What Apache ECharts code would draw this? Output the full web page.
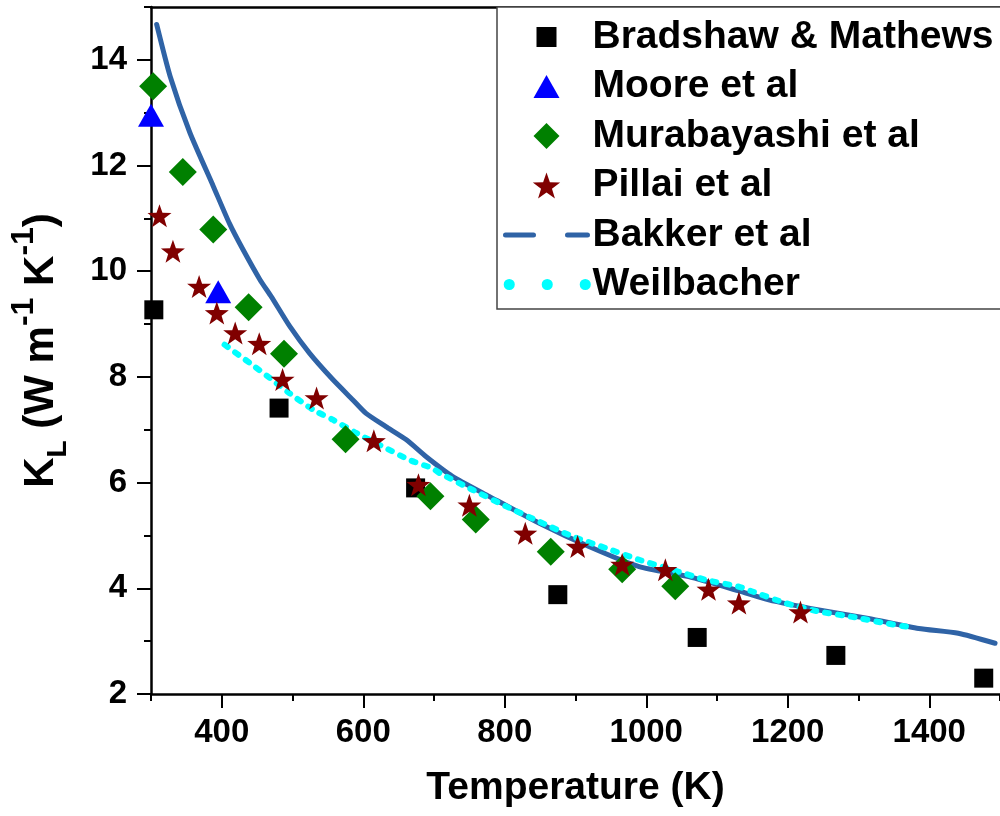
<!DOCTYPE html>
<html><head><meta charset="utf-8">
<script src="https://cdn.jsdelivr.net/npm/echarts@6/dist/echarts.min.js"></script>
<style>html,body{margin:0;padding:0;background:#fff}#c{width:1000px;height:816px}</style>
</head><body><div id="c"></div>
<script>
// ---- data (Temperature K, K_L W m^-1 K^-1) ----
const bradshaw = [[304,9.27],[481,7.41],[674,5.90],[875,3.88],[1072,3.07],[1268,2.73],[1477,2.30]];
const moore = [[300,12.95],[395,9.61]];
const murabayashi = [[303,13.50],[345,11.88],[388,10.79],[438,9.32],[488,8.44],[575,6.82],[695,5.74],[759,5.30],[865,4.69],[966,4.36],[1041,4.04]];
const pillai = [[312,11.05],[331,10.38],[368,9.71],[393,9.21],[419,8.83],[453,8.63],[486,7.95],[534,7.60],[615,6.79],[678,5.96],[750,5.57],[829,5.04],[903,4.79],[966,4.45],[1027,4.35],[1088,3.98],[1131,3.72],[1218,3.55]];
const bakker = [[308,14.67],[327,13.69],[355,12.62],[388,11.61],[411,10.90],[430,10.41],[454,9.84],[470,9.52],[496,8.96],[524,8.45],[557,7.95],[585,7.57],[604,7.31],[632,7.06],[661,6.81],[689,6.49],[726,6.12],[778,5.74],[849,5.23],[919,4.79],[990,4.41],[1060,4.22],[1131,3.95],[1173,3.78],[1244,3.59],[1314,3.43],[1385,3.24],[1441,3.15],[1493,2.96]];
const weilbacher = [[404,8.61],[440,8.26],[468,7.98],[496,7.69],[529,7.38],[557,7.19],[590,6.94],[628,6.68],[665,6.43],[698,6.27],[708,6.18],[755,5.86],[802,5.55],[849,5.26],[896,4.98],[943,4.76],[990,4.54],[1037,4.35],[1084,4.16],[1131,4.03],[1150,3.94],[1197,3.72],[1244,3.56],[1291,3.46],[1338,3.34],[1370,3.27]];
const xTickLabels = [400,600,800,1000,1200,1400];
const yTickLabels = [2,4,6,8,10,12,14];
const seriesNames = ['Bradshaw & Mathews','Moore et al','Murabayashi et al','Pillai et al','Bakker et al','Weilbacher'];

const FONT = '"Liberation Sans", Arial, sans-serif';
const STAR = 'path://M50,0L61.76,33.82L97.55,34.55L69.02,56.18L79.39,90.45L50,70L20.61,90.45L30.98,56.18L2.45,34.55L38.24,33.82Z';
const axisCol = '#000';

const chart = echarts.init(document.getElementById('c'), null, {renderer:'canvas'});
const hidden = {show:false};
const noSplit = {show:false};
chart.setOption({
  animation:false,
  backgroundColor:'#fff',
  grid:[
    {left:151, right:0, top:7, bottom:122, outerBoundsMode:'none'},
    {left:221.75, right:70.75, top:7, bottom:122, outerBoundsMode:'none'},
    {left:151, right:0, top:59.85, bottom:122, outerBoundsMode:'none'}
  ],
  legend:{
    orient:'vertical', left:497, top:7, itemWidth:82, itemHeight:26, itemGap:10.5,
    padding:[10.5, 12, 5, 3], borderColor:'#444', borderWidth:1.5, backgroundColor:'#fff',
    selectedMode:false,
    textStyle:{fontFamily:FONT, fontWeight:'bold', fontSize:39, color:'#000', lineHeight:38},
    data:[
      {name:seriesNames[0], icon:'path://M0,0M26,26M3,3h20v20h-20z'},
      {name:seriesNames[1], icon:'path://M0,0M26,26M13,1.5L26,24.5L0,24.5Z'},
      {name:seriesNames[2], icon:'path://M0,0M26,26M13,0L26,13L13,26L0,13Z'},
      {name:seriesNames[3]},
      {name:seriesNames[4], itemStyle:{opacity:0, color:'rgba(0,0,0,0)'},
       lineStyle:{width:5, type:[28,34], cap:'round', color:'#2f63a6', opacity:1}},
      {name:seriesNames[5], itemStyle:{opacity:0, color:'rgba(0,0,0,0)'},
       lineStyle:{width:11, type:[0.1,37.9], dashOffset:-3.7, cap:'round', color:'#00ffff', opacity:1}}
    ]
  },
  xAxis:[
    {gridIndex:0, type:'value', min:300, max:1500, interval:100, position:'bottom',
     axisLine:{show:true, onZero:false, lineStyle:{color:axisCol, width:2.5}},
     axisTick:{show:true, length:7, lineStyle:{color:axisCol, width:2}},
     splitLine:noSplit,
     axisLabel:{margin:22, fontFamily:FONT, fontWeight:'bold', fontSize:33, color:'#000',
       formatter:v=> xTickLabels.includes(v) ? String(v) : ''},
     name:'Temperature (K)', nameLocation:'middle', nameGap:75, nameMoveOverlap:false,
     nameTextStyle:{fontFamily:FONT, fontWeight:'bold', fontSize:39, color:'#000'}},
    {gridIndex:0, type:'value', min:300, max:1500, position:'top',
     axisLine:{show:true, onZero:false, lineStyle:{color:axisCol, width:2.5}},
     axisTick:hidden, axisLabel:hidden, splitLine:noSplit},
    {gridIndex:1, type:'value', min:400, max:1400, interval:200, position:'bottom',
     axisLine:{show:false, onZero:false}, axisTick:{show:true, length:14, lineStyle:{color:axisCol, width:2}},
     axisLabel:hidden, splitLine:noSplit},
    {gridIndex:2, type:'value', min:300, max:1500, show:false, splitLine:noSplit}
  ],
  yAxis:[
    {gridIndex:0, type:'value', min:2, max:15, interval:1, position:'left',
     axisLine:{show:true, onZero:false, lineStyle:{color:axisCol, width:2.5}},
     axisTick:{show:true, length:7, lineStyle:{color:axisCol, width:2}},
     splitLine:noSplit,
     axisLabel:{margin:24, fontFamily:FONT, fontWeight:'bold', fontSize:33, color:'#000',
       formatter:v=> yTickLabels.includes(v) ? String(v) : ''},
     name:'{m|K}{sub|L}{m| (W m}{sup|-1}{m| K}{sup|-1}{m|)}',
     nameLocation:'middle', nameGap:44.6, nameMoveOverlap:false,
     nameTextStyle:{fontFamily:FONT, fontWeight:'bold', fontSize:42, color:'#000', lineHeight:96.4,
       rich:{
         m:{fontFamily:FONT, fontWeight:'bold', fontSize:42, height:62.6, verticalAlign:'top', color:'#000'},
         sub:{fontFamily:FONT, fontWeight:'bold', fontSize:28, height:96.4, verticalAlign:'top', color:'#000'},
         sup:{fontFamily:FONT, fontWeight:'bold', fontSize:32, height:27.6, verticalAlign:'top', color:'#000'}
       }}},
    {gridIndex:1, type:'value', min:2, max:15, show:false, splitLine:noSplit},
    {gridIndex:2, type:'value', min:2, max:14, interval:2, position:'left',
     axisLine:{show:false, onZero:false}, axisTick:{show:true, length:14, lineStyle:{color:axisCol, width:2}},
     axisLabel:hidden, splitLine:noSplit}
  ],
  series:[
    {name:seriesNames[4], type:'line', data:bakker, symbol:'none', smooth:0.2, z:2,
     lineStyle:{color:'#2f63a6', width:5, cap:'round', join:'round'}, itemStyle:{color:'#2f63a6'}},
    {name:seriesNames[5], type:'line', data:weilbacher, symbol:'none', smooth:0.2, z:3,
     lineStyle:{color:'#00ffff', width:6, type:[4,9], cap:'round', join:'round'}, itemStyle:{color:'#00ffff'}},
    {name:seriesNames[0], type:'scatter', data:bradshaw, symbol:'rect', symbolSize:19, z:4,
     itemStyle:{color:'#000000', opacity:1}},
    {name:seriesNames[1], type:'scatter', data:moore, symbol:'triangle', symbolSize:[26,23], z:4,
     itemStyle:{color:'#0000ff', opacity:1}},
    {name:seriesNames[2], type:'scatter', data:murabayashi, symbol:'diamond', symbolSize:28, z:4,
     itemStyle:{color:'#008000', opacity:1}},
    {name:seriesNames[3], type:'scatter', data:pillai, symbol:STAR, symbolSize:[24,23], z:4,
     itemStyle:{color:'#800000', opacity:1}}
  ]
});
</script></body></html>
